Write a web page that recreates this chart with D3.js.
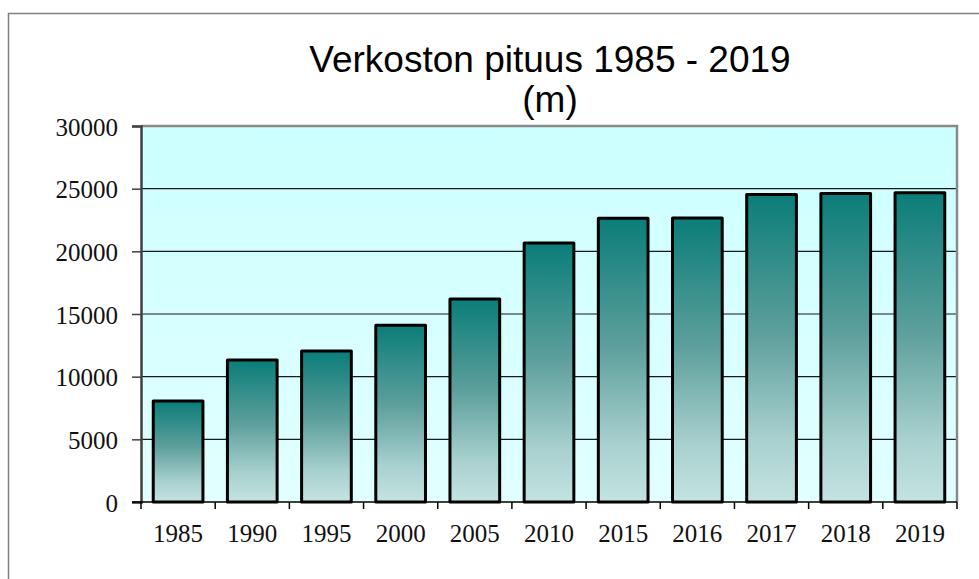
<!DOCTYPE html>
<html>
<head>
<meta charset="utf-8">
<script src="https://cdn.jsdelivr.net/npm/d3@7"></script>
<style>
  html, body { margin: 0; padding: 0; background: #fff; overflow: hidden; }
  svg { display: block; }
</style>
</head>
<body>
<script>
// Data
const years = ["1985", "1990", "1995", "2000", "2005", "2010", "2015", "2016", "2017", "2018", "2019"];
const lengths = [8050, 11330, 12050, 14100, 16200, 20670, 22640, 22660, 24540, 24620, 24670];
const yTicks = [0, 5000, 10000, 15000, 20000, 25000, 30000];
const titleLines = ["Verkoston pituus 1985 - 2019", "(m)"];

const width = 979;
const height = 579;
const plot = { left: 141, right: 957, top: 126, bottom: 502 };

const svg = d3.select("body").append("svg").attr("width", width).attr("height", height);

const defs = svg.append("defs");
const bg = defs.append("linearGradient").attr("id", "bgGrad").attr("x1", 0).attr("y1", 0).attr("x2", 0).attr("y2", 1);
bg.append("stop").attr("offset", "0%").attr("stop-color", "#ccffff");
bg.append("stop").attr("offset", "100%").attr("stop-color", "#e2ffff");

const barGrad = defs.append("linearGradient").attr("id", "barGrad").attr("x1", 0).attr("y1", 0).attr("x2", 0).attr("y2", 1);
barGrad.append("stop").attr("offset", "0%").attr("stop-color", "#0b7d78");
barGrad.append("stop").attr("offset", "45%").attr("stop-color", "#5d9f9c");
barGrad.append("stop").attr("offset", "80%").attr("stop-color", "#a9d1cf");
barGrad.append("stop").attr("offset", "100%").attr("stop-color", "#c4e3e1");

// outer frame (runs off the right and bottom of the picture)
svg.append("rect")
  .attr("x", 8.5).attr("y", 13.5)
  .attr("width", 1100).attr("height", 1000)
  .attr("fill", "none").attr("stroke", "#808080").attr("stroke-width", 1.5);

const x = d3.scaleBand().domain(years).range([plot.left, plot.right]).paddingInner(0.33).paddingOuter(0.165);
const xb = d3.scaleBand().domain(years).range([plot.left, plot.right]);
const y = d3.scaleLinear().domain([0, 30000]).range([plot.bottom, plot.top]);

// plot background
svg.append("rect")
  .attr("x", plot.left).attr("y", plot.top)
  .attr("width", plot.right - plot.left).attr("height", plot.bottom - plot.top)
  .attr("fill", "url(#bgGrad)");

// gridlines
svg.append("g")
  .selectAll("line")
  .data(yTicks.filter((d) => d > 0 && d < 30000))
  .enter()
  .append("line")
  .attr("x1", plot.left).attr("x2", plot.right)
  .attr("y1", (d) => y(d)).attr("y2", (d) => y(d))
  .attr("stroke", "#1a1a1a").attr("stroke-width", 1.2);

// plot frame top / right
svg.append("path")
  .attr("d", `M${plot.left},${plot.top}H${plot.right}V${plot.bottom}`)
  .attr("fill", "none").attr("stroke", "#8a8a8a").attr("stroke-width", 2.5);

// bars
svg.append("g")
  .selectAll("rect")
  .data(years)
  .enter()
  .append("rect")
  .attr("x", (d) => x(d))
  .attr("y", (d, i) => y(lengths[i]))
  .attr("width", x.bandwidth())
  .attr("height", (d, i) => y(0) - y(lengths[i]))
  .attr("fill", "url(#barGrad)")
  .attr("stroke", "#000").attr("stroke-width", 3)
  .attr("stroke-linejoin", "round");

// y axis
const yAxis = svg.append("g")
  .attr("transform", `translate(${plot.left},0)`)
  .call(d3.axisLeft(y).tickValues(yTicks).tickSize(9).tickPadding(14).tickFormat(d3.format("d")));
yAxis.select(".domain").attr("stroke", "#404040").attr("stroke-width", 2.5);
yAxis.selectAll(".tick line").attr("stroke", "#404040").attr("stroke-width", 1.5);
yAxis.selectAll("text")
  .attr("font-family", "'Liberation Serif', serif")
  .attr("font-size", 25)
  .attr("fill", "#111")
  .attr("dy", "0.36em");

// x axis with ticks between categories
const xAxis = svg.append("g").attr("transform", `translate(0,${plot.bottom})`);
xAxis.append("line")
  .attr("x1", plot.left - 9).attr("x2", plot.right)
  .attr("stroke", "#000").attr("stroke-width", 1.5);
xAxis.selectAll(".sep")
  .data(years.concat(["end"]))
  .enter()
  .append("line")
  .attr("class", "sep")
  .attr("x1", (d, i) => (i < years.length ? xb(d) : plot.right))
  .attr("x2", (d, i) => (i < years.length ? xb(d) : plot.right))
  .attr("y1", 0).attr("y2", 7)
  .attr("stroke", "#000").attr("stroke-width", 1.5);
xAxis.selectAll("text")
  .data(years)
  .enter()
  .append("text")
  .attr("x", (d) => xb(d) + xb.bandwidth() / 2)
  .attr("y", 40)
  .attr("text-anchor", "middle")
  .attr("font-family", "'Liberation Serif', serif")
  .attr("font-size", 25)
  .attr("fill", "#111")
  .text((d) => d);

// title
svg.append("g")
  .selectAll("text")
  .data(titleLines)
  .enter()
  .append("text")
  .attr("x", 550)
  .attr("y", (d, i) => 72 + i * 40)
  .attr("text-anchor", "middle")
  .attr("font-family", "'Liberation Sans', Arial, sans-serif")
  .attr("font-size", 37)
  .attr("fill", "#000")
  .text((d) => d);
</script>
</body>
</html>
